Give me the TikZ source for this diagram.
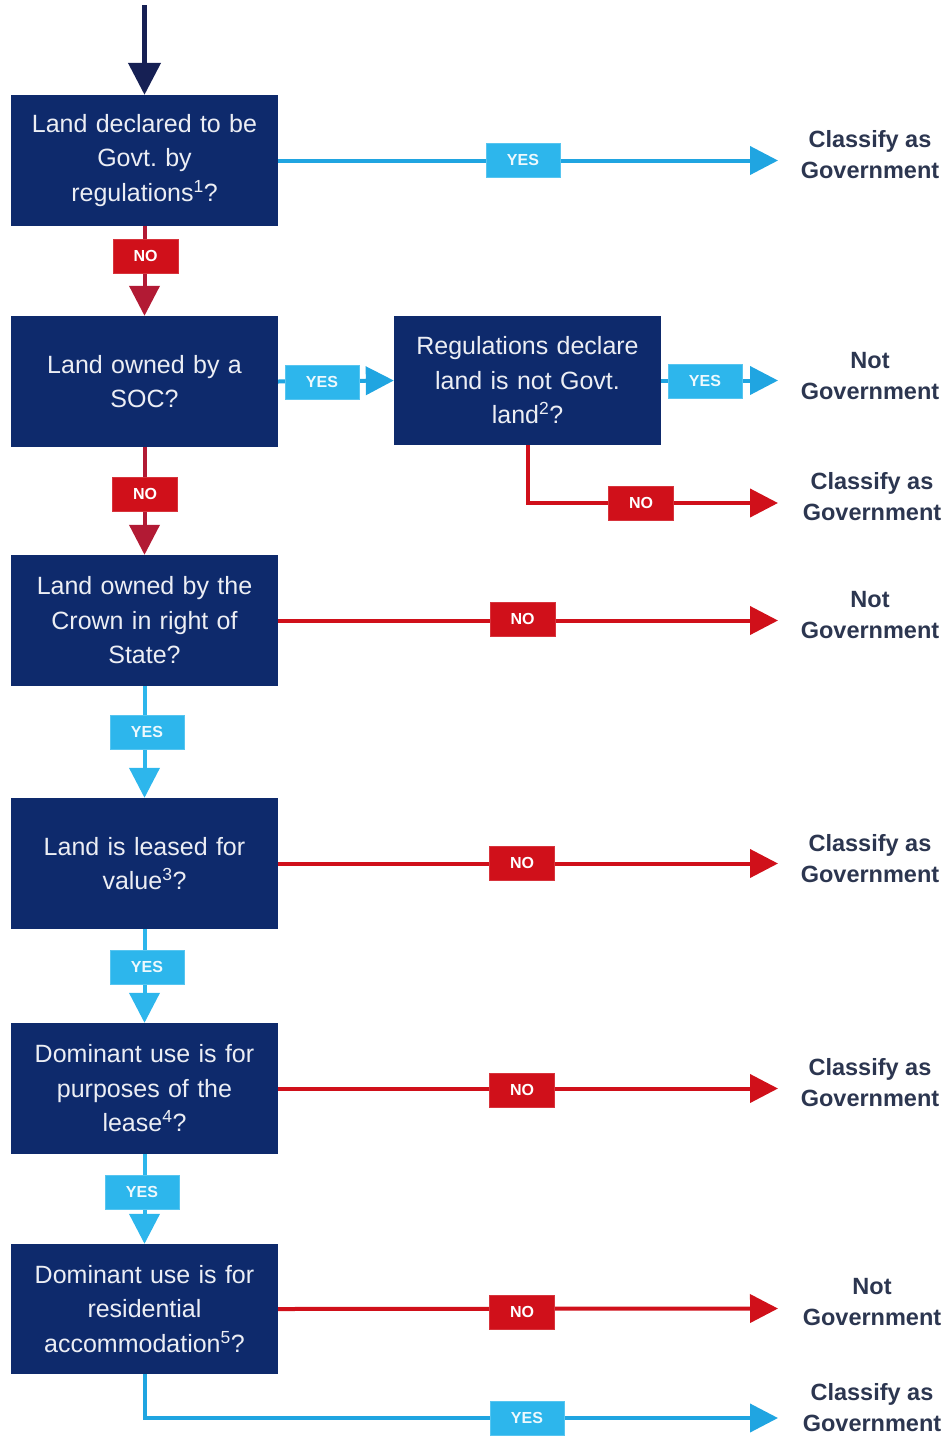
\documentclass[tikz,border=0pt]{standalone}
\usepackage{fontspec}
\setmainfont{Liberation Sans}
\usetikzlibrary{arrows.meta}
\frenchspacing
\definecolor{navy}{RGB}{14,42,108}
\definecolor{darknavy}{RGB}{22,32,84}
\definecolor{lblue}{RGB}{45,182,236}
\definecolor{lineblue}{RGB}{32,165,225}
\definecolor{bred}{RGB}{208,16,26}
\definecolor{crimson}{RGB}{178,26,52}
\definecolor{outtxt}{RGB}{44,54,80}
\definecolor{boxtxt}{RGB}{236,238,244}
\tikzset{
  qbox/.style={fill=navy, draw=none, minimum width=267pt, minimum height=131pt, inner sep=0pt,
    text width=262pt, align=center, text=boxtxt, font=\fontsize{25}{34.5}\selectfont\frenchspacing},
  yeslbl/.style={fill=lblue, draw=lblue!80!white, line width=0.8pt, minimum width=74pt, minimum height=34pt, inner sep=0pt,
    text=white!92!lblue, font=\fontsize{16}{16}\selectfont\bfseries},
  nolbl/.style={fill=bred, draw=bred!85!white, line width=0.8pt, minimum width=65pt, minimum height=34pt, inner sep=0pt,
    text=white, font=\fontsize{16}{16}\selectfont\bfseries},
  outcome/.style={align=center, text=outtxt, font=\fontsize{23.5}{31}\selectfont\bfseries, inner sep=0pt},
  yesline/.style={draw=lineblue, line width=4pt, -{Triangle[length=28pt,width=28pt]}},
  noline/.style={draw=bred, line width=4pt, -{Triangle[length=28pt,width=28pt]}},
  nodown/.style={draw=crimson, line width=4pt, -{Triangle[length=30pt,width=30pt]}},
  yesdown/.style={draw=lblue, line width=4pt, -{Triangle[length=30pt,width=30pt]}},
  startline/.style={draw=darknavy, line width=4.5pt, -{Triangle[length=32pt,width=32pt]}},
}
\begin{document}
\begin{tikzpicture}[x=1pt,y=-1pt]
\useasboundingbox (0,0) rectangle (944,1438);
% question boxes
\node[qbox] (q1) at (144.5,160.5) {Land declared to be\\Govt. by\\regulations\textsuperscript{1}?};
\node[qbox] (q2) at (144.5,381.5) {Land owned by a\\SOC?};
\node[qbox, minimum height=129pt] (qm) at (527.5,380.5) {Regulations declare\\land is not Govt.\\land\textsuperscript{2}?};
\node[qbox] (q3) at (144.5,620.5) {Land owned by the\\Crown in right of\\State?};
\node[qbox] (q4) at (144.5,863.5) {Land is leased for\\value\textsuperscript{3}?};
\node[qbox] (q5) at (144.5,1088.5) {Dominant use is for\\purposes of the\\lease\textsuperscript{4}?};
\node[qbox, minimum height=130pt] (q6) at (144.5,1309) {Dominant use is for\\residential\\accommodation\textsuperscript{5}?};
% outcomes
\node[outcome] (o1) at (870,155) {Classify as\\Government};
\node[outcome] (o2) at (870,376) {Not\\Government};
\node[outcome] (o3) at (872,497) {Classify as\\Government};
\node[outcome] (o4) at (870,615) {Not\\Government};
\node[outcome] (o5) at (870,859) {Classify as\\Government};
\node[outcome] (o6) at (870,1083) {Classify as\\Government};
\node[outcome] (o7) at (872,1302) {Not\\Government};
\node[outcome] (o8) at (872,1408) {Classify as\\Government};
% free ends
\coordinate (s0) at (144.5,5);
\coordinate (e1) at (778,160.5);
\coordinate (e2) at (778,380.5);
\coordinate (e3) at (778,503);
\coordinate (e4) at (778,620.5);
\coordinate (e5) at (778,863.5);
\coordinate (e6) at (778,1088.5);
\coordinate (e7) at (778,1308.5);
\coordinate (e8) at (778,1418);
% connectors
\draw[startline] (s0) -- (q1.north);
\draw[yesline] (q1.east) -- (e1);
\draw[nodown] (q1.south) -- (q2.north);
\draw[yesline] (q2.east) -- (qm.west);
\draw[yesline] (qm.east) -- (e2);
\draw[noline] (qm.south) |- (e3);
\draw[nodown] (q2.south) -- (q3.north);
\draw[noline] (q3.east) -- (e4);
\draw[yesdown] (q3.south) -- (q4.north);
\draw[noline] (q4.east) -- (e5);
\draw[yesdown] (q4.south) -- (q5.north);
\draw[noline] (q5.east) -- (e6);
\draw[yesdown] (q5.south) -- (q6.north);
\draw[noline] (q6.east) -- (e7);
\draw[yesline] (q6.south) |- (e8);
% labels
\node[yeslbl] (l1) at (523,160) {YES};
\node[nolbl] (l2) at (145.5,256) {NO};
\node[yeslbl] (l3) at (322,382) {YES};
\node[yeslbl] (l4) at (705,381) {YES};
\node[nolbl] (l5) at (641,503) {NO};
\node[nolbl] (l6) at (145,494) {NO};
\node[nolbl] (l7) at (522.5,619) {NO};
\node[yeslbl] (l8) at (147,732) {YES};
\node[nolbl] (l9) at (522,863) {NO};
\node[yeslbl] (l10) at (147,967) {YES};
\node[nolbl] (l11) at (522,1090) {NO};
\node[yeslbl] (l12) at (142,1192) {YES};
\node[nolbl] (l13) at (522,1312) {NO};
\node[yeslbl] (l14) at (527,1418) {YES};
\end{tikzpicture}
\end{document}
